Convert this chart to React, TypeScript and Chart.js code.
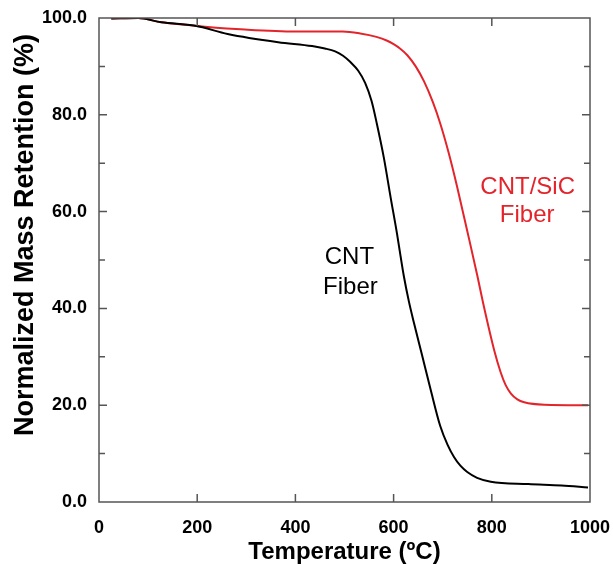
import React, { useEffect, useRef } from "react";
import { Chart, registerables } from "chart.js";

Chart.register(...registerables);

// CNT Fiber (black)
const cntTemp = [25, 80, 127, 196, 262, 365, 434, 460, 481, 497, 512, 528, 542, 555, 566, 580, 594, 607, 614, 621, 631, 641, 658, 675, 695, 710, 723, 736, 750, 770, 798, 874, 942, 996];
const cntMass = [99.9, 100, 99.1, 98.4, 96.7, 95.0, 94.2, 93.7, 93.1, 92.2, 90.9, 89.1, 86.6, 82.9, 78.1, 71.2, 62.9, 55.4, 50.9, 46.6, 41.5, 37.2, 30.3, 23.4, 15.7, 11.8, 9.3, 7.5, 6.2, 5.0, 4.2, 3.7, 3.4, 3.0];

// CNT/SiC Fiber (red)
const sicTemp = [25, 80, 127, 196, 216, 297, 400, 496, 532, 565, 587, 600, 613, 628, 645, 662, 680, 695, 712, 729, 750, 770, 783, 805, 818, 828, 839, 852, 866, 907, 996];
const sicMass = [99.9, 100, 99.1, 98.4, 98.2, 97.6, 97.2, 97.2, 96.8, 96.1, 95.3, 94.6, 93.7, 92.3, 90.0, 86.9, 82.6, 78.2, 72.2, 65.3, 56.0, 47.0, 40.8, 31.3, 26.8, 24.2, 22.4, 21.2, 20.6, 20.1, 20.0];

const xTicks = [0, 200, 400, 600, 800, 1000];
const yTicks = [0, 20, 40, 60, 80, 100];
const yMinorTicks = [10, 30, 50, 70, 90];

const xTitle = "Temperature (ºC)";
const yTitle = "Normalized Mass Retention (%)";
const cntLabel = ["CNT", "Fiber"];
const sicLabel = ["CNT/SiC", "Fiber"];

const RED = "#e3242b";
const FONT = "'Liberation Sans', Arial, Helvetica, sans-serif";

const framePlugin = {
  id: "framePlugin",
  afterDraw(chart: any) {
    const { ctx, chartArea: a, scales } = chart;
    const xs = scales.x;
    const ys = scales.y;
    ctx.save();
    ctx.strokeStyle = "#555";
    ctx.lineWidth = 1.5;
    ctx.strokeRect(a.left, a.top, a.right - a.left, a.bottom - a.top);
    const major = 8;
    const minor = 6;
    ctx.beginPath();
    xTicks.forEach((t) => {
      const px = xs.getPixelForValue(t);
      if (px <= a.left + 1 || px >= a.right - 1) return;
      ctx.moveTo(px, a.bottom);
      ctx.lineTo(px, a.bottom - major);
      ctx.moveTo(px, a.top);
      ctx.lineTo(px, a.top + major);
    });
    yTicks.forEach((t) => {
      const py = ys.getPixelForValue(t);
      if (py <= a.top + 1 || py >= a.bottom - 1) return;
      ctx.moveTo(a.left, py);
      ctx.lineTo(a.left + major, py);
      ctx.moveTo(a.right, py);
      ctx.lineTo(a.right - major, py);
    });
    yMinorTicks.forEach((t) => {
      const py = ys.getPixelForValue(t);
      ctx.moveTo(a.left, py);
      ctx.lineTo(a.left + minor, py);
      ctx.moveTo(a.right, py);
      ctx.lineTo(a.right - minor, py);
    });
    ctx.stroke();

    // annotations
    ctx.font = `24px ${FONT}`;
    ctx.textAlign = "center";
    ctx.textBaseline = "middle";
    ctx.fillStyle = "#000";
    ctx.fillText(cntLabel[0], xs.getPixelForValue(510), ys.getPixelForValue(50.6));
    ctx.fillText(cntLabel[1], xs.getPixelForValue(512), ys.getPixelForValue(44.4));
    ctx.fillStyle = RED;
    ctx.fillText(sicLabel[0], xs.getPixelForValue(873), ys.getPixelForValue(65.0));
    ctx.fillText(sicLabel[1], xs.getPixelForValue(872), ys.getPixelForValue(59.2));

    // y axis title
    ctx.fillStyle = "#000";
    ctx.font = `bold 27px ${FONT}`;
    ctx.translate(26, (a.top + a.bottom) / 2 - 25);
    ctx.rotate(-Math.PI / 2);
    ctx.fillText(yTitle, 0, 0);
    ctx.restore();
  },
};

export default function App() {
  const ref = useRef<HTMLCanvasElement | null>(null);
  useEffect(() => {
    document.body.style.margin = "0";
    const canvas = ref.current;
    if (!canvas) return;
    const chart = new Chart(canvas, {
      type: "line",
      data: {
        datasets: [
          {
            label: "CNT Fiber",
            data: cntTemp.map((t, i) => ({ x: t, y: cntMass[i] })),
            borderColor: "#000",
            borderWidth: 2,
            pointRadius: 0,
            cubicInterpolationMode: "monotone",
          },
          {
            label: "CNT/SiC Fiber",
            data: sicTemp.map((t, i) => ({ x: t, y: sicMass[i] })),
            borderColor: RED,
            borderWidth: 2,
            pointRadius: 0,
            cubicInterpolationMode: "monotone",
          },
        ],
      },
      options: {
        responsive: false,
        animation: false,
        layout: { padding: { top: 18, right: 23, left: 0, bottom: 0 } },
        plugins: { legend: { display: false }, tooltip: { enabled: false } },
        scales: {
          x: {
            type: "linear",
            min: 0,
            max: 1000,
            grid: { display: false },
            border: { display: false },
            ticks: {
              stepSize: 200,
              padding: 7,
              color: "#000",
              maxRotation: 0,
              font: { family: FONT, size: 18, weight: "bold" },
              callback: (v: any) => String(v),
            },
            title: {
              display: true,
              text: xTitle,
              color: "#000",
              padding: { top: 0, bottom: -3 },
              font: { family: FONT, size: 24, weight: "bold" },
            },
            afterFit: (s: any) => {
              s.height = 62;
              s.paddingRight = 0;
              s.paddingLeft = 0;
            },
          },
          y: {
            min: 0,
            max: 100,
            grid: { display: false },
            border: { display: false },
            ticks: {
              stepSize: 20,
              padding: 4,
              color: "#000",
              font: { family: FONT, size: 18, weight: "bold" },
              callback: (v: any) => Number(v).toFixed(1),
            },
            afterFit: (s: any) => {
              s.width = 99;
            },
          },
        },
      },
      plugins: [framePlugin],
    } as any);
    return () => chart.destroy();
  }, []);
  return <canvas ref={ref} width={613} height={564} style={{ display: "block" }} />;
}
